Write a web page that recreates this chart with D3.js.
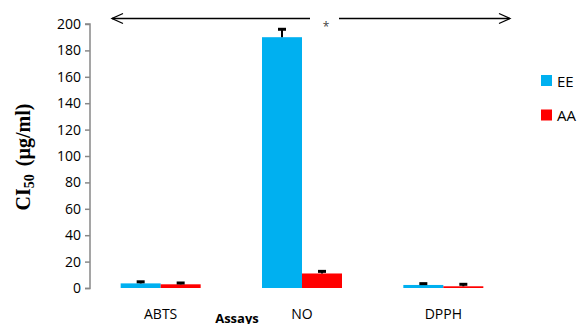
<!DOCTYPE html>
<html><head><meta charset="utf-8">
<script src="https://cdn.jsdelivr.net/npm/d3@7"></script>
<style>body{margin:0;background:#fff}svg{display:block}</style>
</head><body>
<script>
const categories = ["ABTS", "NO", "DPPH"];
const seriesNames = ["EE", "AA"];
const eeValues = [3.5, 190, 2.3];
const eeErrors = [1.2, 6, 1.0];
const aaValues = [2.8, 11, 1.3];
const aaErrors = [1.0, 1.6, 1.5];
const yTicks = [0, 20, 40, 60, 80, 100, 120, 140, 160, 180, 200];
const colors = ["#00B0F0", "#FF0000"];

const W = 577, H = 324;
const svg = d3.select("body").append("svg").attr("width", W).attr("height", H);
const font = "'Open Sans', Lato, sans-serif";

const y = d3.scaleLinear().domain([0, 200]).range([288, 24]);
const x0 = d3.scaleBand().domain(categories).range([90, 514]).paddingInner(0.434).paddingOuter(0.217);
const x1 = d3.scaleBand().domain(seriesNames).range([0, x0.bandwidth()]);

// y axis
const yAxis = d3.axisLeft(y).tickValues(yTicks).tickSize(5).tickPadding(4);
const ga = svg.append("g").attr("transform", "translate(90,0)").call(yAxis);
ga.select(".domain").attr("stroke", "#888").attr("stroke-width", 1.5).attr("d", "M-5,288.5H0V24H-5");
ga.selectAll(".tick line").attr("stroke", "#888").attr("stroke-width", 1.5);
ga.selectAll(".tick text").attr("font-family", font).attr("font-size", 14).attr("fill", "#000");

const data = categories.map((c, i) => ({
  cat: c,
  items: [
    {s: "EE", v: eeValues[i], e: eeErrors[i]},
    {s: "AA", v: aaValues[i], e: aaErrors[i]}
  ]
}));

const groups = svg.selectAll("g.grp").data(data).enter().append("g")
  .attr("transform", d => `translate(${x0(d.cat)},0)`);
groups.selectAll("rect").data(d => d.items).enter().append("rect")
  .attr("x", d => x1(d.s)).attr("width", x1.bandwidth())
  .attr("y", d => y(d.v)).attr("height", d => y(0) - y(d.v))
  .attr("fill", (d, i) => colors[i]);
// error bars
groups.selectAll("line.err").data(d => d.items).enter().append("line")
  .attr("x1", d => x1(d.s) + x1.bandwidth() / 2).attr("x2", d => x1(d.s) + x1.bandwidth() / 2)
  .attr("y1", d => y(d.v)).attr("y2", d => y(d.v + d.e))
  .attr("stroke", "#000").attr("stroke-width", 2);
groups.selectAll("line.cap").data(d => d.items).enter().append("line")
  .attr("x1", d => x1(d.s) + x1.bandwidth() / 2 - 4).attr("x2", d => x1(d.s) + x1.bandwidth() / 2 + 4)
  .attr("y1", d => y(d.v + d.e)).attr("y2", d => y(d.v + d.e))
  .attr("stroke", "#000").attr("stroke-width", 3);

// x labels
svg.selectAll("text.xl").data(categories).enter().append("text")
  .attr("x", d => x0(d) + x0.bandwidth() / 2).attr("y", 319)
  .attr("text-anchor", "middle").attr("font-family", font).attr("font-size", 14)
  .text(d => d);
svg.append("text").attr("x", 237).attr("y", 323).attr("text-anchor", "middle")
  .attr("font-family", font).attr("font-size", 13).attr("font-weight", "bold").text("Assays");

// y title
const yt = svg.append("text").attr("transform", "translate(30,157) rotate(-90)")
  .attr("text-anchor", "middle").attr("font-family", "'Liberation Serif', 'Times New Roman', serif")
  .attr("font-size", 20).attr("font-weight", "bold");
yt.append("tspan").text("CI");
yt.append("tspan").attr("font-size", 14).attr("dy", 4).text("50");
yt.append("tspan").attr("dy", -4).attr("dx", 8).text("(µg/ml)");

// legend
const lg = svg.selectAll("g.lg").data(seriesNames).enter().append("g")
  .attr("transform", (d, i) => `translate(541,${75 + i * 34.5})`);
lg.append("rect").attr("width", 11).attr("height", 11).attr("fill", (d, i) => colors[i]);
lg.append("text").attr("x", 16).attr("y", 11.5).attr("font-family", font).attr("font-size", 15).text(d => d);

// arrow
const ay = 18.5;
svg.append("line").attr("x1", 112).attr("x2", 310).attr("y1", ay).attr("y2", ay).attr("stroke", "#000").attr("stroke-width", 1.3);
svg.append("line").attr("x1", 339).attr("x2", 510).attr("y1", ay).attr("y2", ay).attr("stroke", "#000").attr("stroke-width", 1.3);
svg.append("path").attr("d", `M123,${ay - 5}L112,${ay}L123,${ay + 5}`).attr("fill", "none").attr("stroke", "#000").attr("stroke-width", 1.3);
svg.append("path").attr("d", `M499,${ay - 5}L510,${ay}L499,${ay + 5}`).attr("fill", "none").attr("stroke", "#000").attr("stroke-width", 1.3);
svg.append("text").attr("x", 326).attr("y", 31).attr("text-anchor", "middle")
  .attr("font-family", font).attr("font-size", 12).attr("fill", "#444").text("*");
</script>
</body></html>
